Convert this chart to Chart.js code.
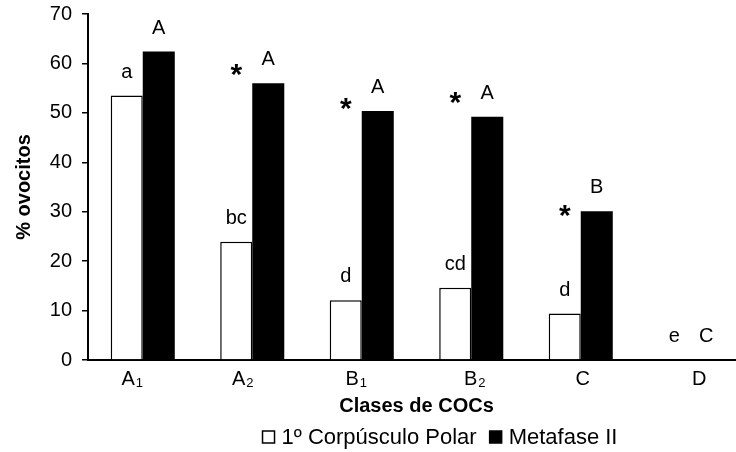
<!DOCTYPE html>
<html>
<head>
<meta charset="utf-8">
<script src="https://cdn.jsdelivr.net/npm/chart.js@4.4.1/dist/chart.umd.min.js"></script>
<style>
  html, body { margin: 0; padding: 0; background: #fff; overflow: hidden; }
  #wrap { width: 750px; height: 452px; }
</style>
</head>
<body>
<div id="wrap"><canvas id="cocChart" width="750" height="452"></canvas></div>
<script>
// COC classes (letter + subscript) and the two oocyte stages
const classBase = ["A", "A", "B", "B", "C", "D"];
const classSub = ["1", "2", "1", "2", "", ""];
const polarValues = [53.5, 23.9, 12.1, 14.6, 9.4, 0];
const metafaseValues = [62.4, 56.0, 50.4, 49.2, 30.1, 0];
const polarLetters = ["a", "bc", "d", "cd", "d", "e"];
const metafaseLetters = ["A", "A", "A", "A", "B", "C"];
const starred = [false, true, true, true, true, false];
const yTicks = [0, 10, 20, 30, 40, 50, 60, 70];

const FONT = "'Liberation Sans', Arial, Helvetica, sans-serif";

// hand-tuned nudges for the category labels and the asterisks
const labelShift = [-11, -10, -6, 3, 2, 9];
const starLift = [5, 13, 7, 19, 0, 0];

const annotate = {
  id: "annotate",
  afterDatasetsDraw(chart) {
    const ctx = chart.ctx;
    const white = chart.getDatasetMeta(0).data;
    const black = chart.getDatasetMeta(1).data;
    ctx.save();
    ctx.fillStyle = "#000";
    ctx.textAlign = "center";
    ctx.textBaseline = "alphabetic";
    ctx.font = "20px " + FONT;
    white.forEach((bar, i) => ctx.fillText(polarLetters[i], bar.x, bar.y - 18));
    black.forEach((bar, i) => ctx.fillText(metafaseLetters[i], bar.x, bar.y - 18));

    // asterisks: centre the glyph's ink just above the black bar
    ctx.font = "bold 30px " + FONT;
    const m = ctx.measureText("*");
    const inkMid = (m.actualBoundingBoxDescent - m.actualBoundingBoxAscent) / 2;
    starred.forEach((s, i) => {
      if (!s) return;
      const cy = black[i].y - starLift[i];
      ctx.fillText("*", white[i].x, cy - inkMid);
    });
    ctx.restore();
  },
  afterDraw(chart) {
    const ctx = chart.ctx;
    const xs = chart.scales.x;
    ctx.save();
    ctx.fillStyle = "#000";
    ctx.textBaseline = "alphabetic";
    ctx.textAlign = "left";

    // category labels with subscripts
    classBase.forEach((b, i) => {
      ctx.font = "20px " + FONT;
      const wb = ctx.measureText(b).width;
      ctx.font = "13px " + FONT;
      const ws = classSub[i] ? ctx.measureText(classSub[i]).width : 0;
      const x0 = xs.getPixelForValue(i) + labelShift[i] - (wb + ws) / 2;
      ctx.font = "20px " + FONT;
      ctx.fillText(b, x0, 385);
      if (classSub[i]) {
        ctx.font = "13px " + FONT;
        ctx.fillText(classSub[i], x0 + wb + 1, 387);
      }
    });

    // legend
    const sets = chart.data.datasets;
    ctx.font = "22px " + FONT;
    const box = 12, gap = 7, between = 13;
    const widths = sets.map(d => ctx.measureText(d.label).width);
    const total = widths.reduce((a, w) => a + w + box + gap, 0) + between;
    let x = 440 - total / 2;
    const cy = 437;
    sets.forEach((d, i) => {
      ctx.fillStyle = d.backgroundColor;
      ctx.fillRect(x, cy - box / 2, box, box);
      ctx.lineWidth = 1.5;
      ctx.strokeStyle = "#000";
      ctx.strokeRect(x, cy - box / 2, box, box);
      ctx.fillStyle = "#000";
      ctx.textBaseline = "middle";
      ctx.fillText(d.label, x + box + gap, cy + 1);
      x += box + gap + widths[i] + between;
    });
    ctx.restore();
  }
};

new Chart(document.getElementById("cocChart"), {
  type: "bar",
  data: {
    labels: classBase.map((b, i) => b + classSub[i]),
    datasets: [
      {
        label: "1º Corpúsculo Polar",
        data: polarValues,
        backgroundColor: "#ffffff",
        borderColor: "#000000",
        borderWidth: 1.5,
        categoryPercentage: 0.585,
        barPercentage: 1
      },
      {
        label: "Metafase II",
        data: metafaseValues,
        backgroundColor: "#000000",
        borderWidth: 0,
        categoryPercentage: 0.585,
        barPercentage: 1
      }
    ]
  },
  options: {
    responsive: false,
    animation: false,
    devicePixelRatio: 1,
    layout: { padding: { top: 14, right: 5, bottom: 34, left: 0 } },
    plugins: { legend: { display: false }, tooltip: { enabled: false } },
    scales: {
      x: {
        grid: { display: true, drawOnChartArea: false, drawTicks: false },
        border: { display: true, color: "#000", width: 2 },
        ticks: { display: false },
        title: {
          display: true,
          text: "Clases de COCs",
          color: "#000",
          font: { family: FONT, size: 20, weight: "bold" },
          padding: 0
        },
        afterFit(scale) { scale.height = 58; }
      },
      y: {
        min: 0,
        max: 70,
        afterBuildTicks(scale) { scale.ticks = yTicks.map(v => ({ value: v })); },
        grid: { display: true, drawOnChartArea: false, drawTicks: true, tickLength: 6, color: "#000", lineWidth: 1.5 },
        border: { display: true, color: "#000", width: 2 },
        ticks: { color: "#000", padding: 10, font: { family: FONT, size: 20 } },
        title: {
          display: true,
          text: "% ovocitos",
          color: "#000",
          font: { family: FONT, size: 20, weight: "bold" },
          padding: { top: 12, bottom: 0 }
        },
        afterFit(scale) {
          scale.width = 88;
          scale.paddingTop = 0;
          scale.paddingBottom = 0;
        }
      }
    }
  },
  plugins: [annotate]
});
</script>
</body>
</html>
